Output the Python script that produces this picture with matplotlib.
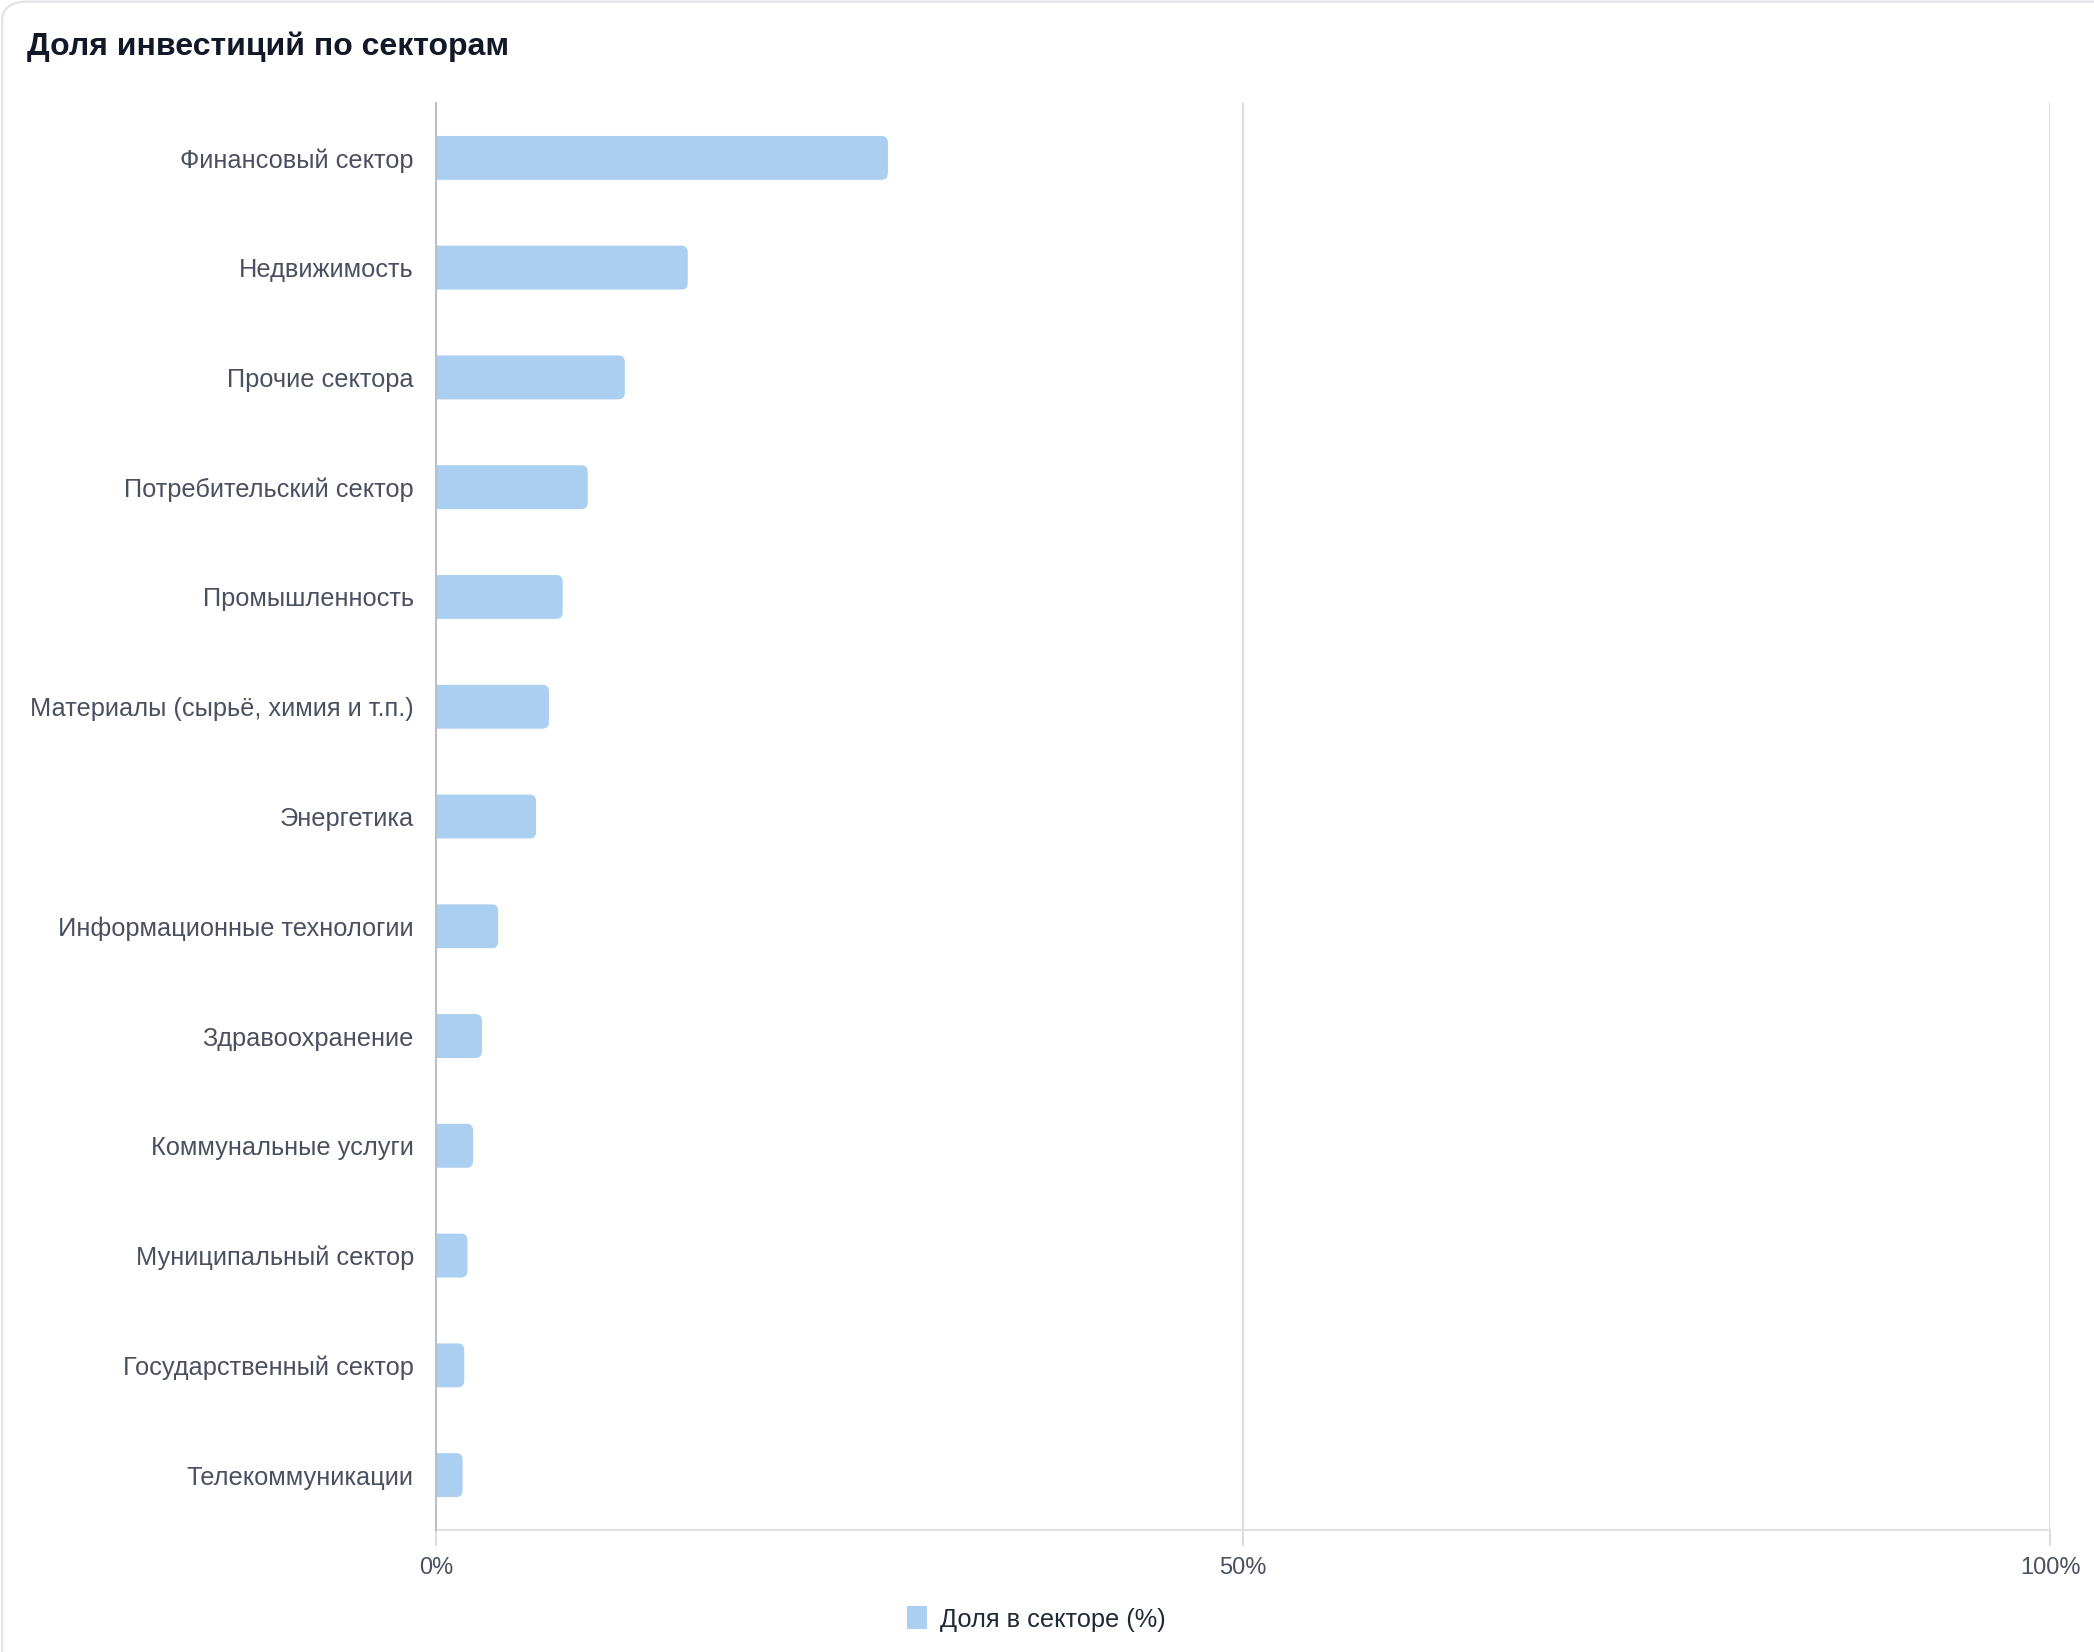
import matplotlib.pyplot as plt
from matplotlib.patches import FancyBboxPatch
import numpy as np

plt.rcParams['font.family'] = ['Liberation Sans', 'DejaVu Sans']

sectors = ['Финансовый сектор', 'Недвижимость', 'Прочие сектора',
           'Потребительский сектор', 'Промышленность',
           'Материалы (сырьё, химия и т.п.)', 'Энергетика',
           'Информационные технологии', 'Здравоохранение',
           'Коммунальные услуги', 'Муниципальный сектор',
           'Государственный сектор', 'Телекоммуникации']
shares = [28.0, 15.6, 11.7, 9.4, 7.85, 7.0, 6.2, 3.85, 2.85, 2.3, 1.95, 1.75, 1.65]
xticks = [0, 50, 100]
xtick_labels = ['0%', '50%', '100%']

bar_color = '#aacff1'
grid_color = '#dcdce0'

fig = plt.figure(figsize=(20.94, 16.52), dpi=100)
ax = fig.add_axes([436 / 2094, 1 - 1530 / 1652, (2050 - 436) / 2094, (1530 - 103) / 1652])

# card border (runs off the right and bottom edges)
card = FancyBboxPatch((0.001, -0.1), 1.2, 1.099, boxstyle='round,pad=0,rounding_size=0.012',
                      transform=fig.transFigure, facecolor='none', edgecolor='#e2e2e6',
                      linewidth=1.5, zorder=0)
fig.patches.append(card)

ypos = np.arange(len(sectors))
bars = ax.barh(ypos, shares, height=0.4, color=bar_color, label='Доля в секторе (%)')

# rounded right ends
aspect = (1 / 110) / (1 / 16.14)
r = 0.4
for rect in bars:
    x, y = rect.get_x(), rect.get_y()
    w, h = rect.get_width(), rect.get_height()
    rect.set_visible(False)
    p = FancyBboxPatch((x - r * 2, y), w + r * 2, h,
                       boxstyle=f'round,pad=0,rounding_size={r}',
                       mutation_aspect=aspect, facecolor=bar_color,
                       edgecolor='none', zorder=2)
    ax.add_patch(p)

ax.set_xlim(0, 100)
ax.set_ylim(len(sectors) - 0.5, -0.5)
ax.set_yticks(ypos)
ax.set_yticklabels(sectors, fontsize=18.3, color='#4b5060')
ax.tick_params(axis='y', length=0, pad=16)
ax.set_xticks(xticks)
ax.set_xticklabels(xtick_labels, fontsize=17, color='#4b5060')
ax.tick_params(axis='x', length=11.5, width=1.4, color=grid_color, pad=8)

for v in xticks[1:]:
    ax.axvline(v, color=grid_color, linewidth=1.5, zorder=1)

for s in ['top', 'right']:
    ax.spines[s].set_visible(False)
ax.spines['left'].set_color('#bdbfc8')
ax.spines['left'].set_linewidth(1.5)
ax.spines['left'].set_zorder(3)
ax.spines['bottom'].set_color('#e0e0e4')
ax.spines['bottom'].set_linewidth(1.5)

fig.text(27 / 2094, 1 - 47 / 1652, 'Доля инвестиций по секторам', fontsize=23,
         fontweight='bold', color='#111827', va='center', ha='left')

leg = fig.legend(handles=[bars], labels=['Доля в секторе (%)'], loc='center',
                 bbox_to_anchor=(1036 / 2094, 1 - 1619 / 1652), frameon=False,
                 fontsize=18.3, handlelength=0.8, handleheight=1.0, handletextpad=0.5)
for t in leg.get_texts():
    t.set_color('#1f2937')
for h in leg.legend_handles:
    h.set_visible(True)

fig.savefig('out.png', dpi=100)
